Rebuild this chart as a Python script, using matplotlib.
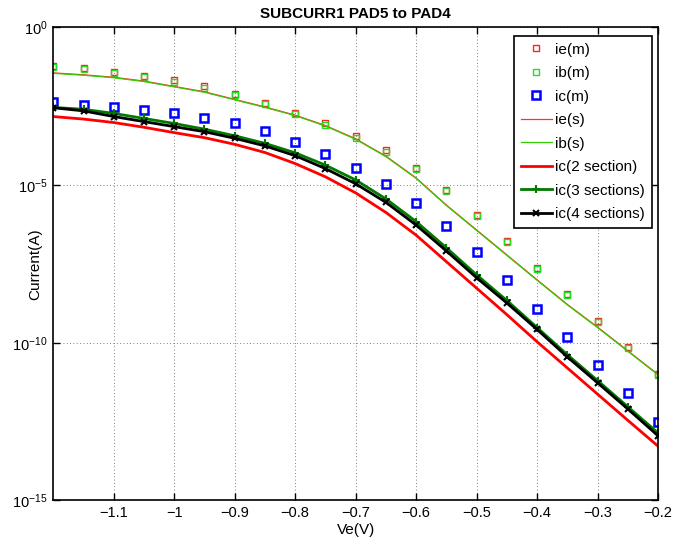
import numpy as np
import matplotlib
matplotlib.use("Agg")
import matplotlib.pyplot as plt
from matplotlib.ticker import FixedLocator, FixedFormatter, NullLocator

plt.rcParams['font.family'] = ['Liberation Sans', 'DejaVu Sans']
plt.rcParams['mathtext.fontset'] = 'custom'
plt.rcParams['mathtext.rm'] = 'Liberation Sans'
plt.rcParams['mathtext.it'] = 'Liberation Sans:italic'

# Emitter voltage (V)
ve = [-1.2, -1.15, -1.1, -1.05, -1.0, -0.95, -0.9, -0.85, -0.8, -0.75, -0.7,
      -0.65, -0.6, -0.55, -0.5, -0.45, -0.4, -0.35, -0.3, -0.25, -0.2]

# log10 of currents (A)
ie_m_log = [-1.22, -1.30, -1.41, -1.53, -1.68, -1.87, -2.10, -2.39, -2.71, -3.05, -3.46,
            -3.90, -4.47, -5.15, -5.94, -6.78, -7.62, -8.46, -9.31, -10.15, -11.00]
ib_m_log = [-1.25, -1.33, -1.44, -1.56, -1.72, -1.91, -2.14, -2.43, -2.75, -3.09, -3.50,
            -3.94, -4.50, -5.18, -5.97, -6.81, -7.65, -8.49, -9.34, -10.18, -11.02]
ic_m_log = [-2.38, -2.46, -2.54, -2.62, -2.71, -2.86, -3.05, -3.29, -3.63, -4.02, -4.46,
            -4.97, -5.56, -6.29, -7.12, -8.01, -8.92, -9.82, -10.72, -11.60, -12.51]
ie_s_log = [-1.445, -1.505, -1.585, -1.705, -1.875, -2.045, -2.285, -2.525, -2.785, -3.115, -3.535,
            -4.085, -4.775, -5.635, -6.425, -7.215, -8.005, -8.785, -9.505, -10.255, -11.005]
ib_s_log = [-1.46, -1.52, -1.60, -1.72, -1.89, -2.06, -2.30, -2.54, -2.80, -3.13, -3.55,
            -4.10, -4.79, -5.65, -6.44, -7.23, -8.02, -8.80, -9.52, -10.27, -11.02]
ic2_log = [-2.83, -2.91, -3.02, -3.17, -3.34, -3.50, -3.71, -3.97, -4.32, -4.74, -5.25,
           -5.87, -6.59, -7.43, -8.27, -9.11, -9.97, -10.80, -11.63, -12.46, -13.28]
ic3_log = [-2.54, -2.60, -2.73, -2.89, -3.05, -3.23, -3.44, -3.68, -3.98, -4.37, -4.84,
           -5.44, -6.16, -6.99, -7.85, -8.66, -9.52, -10.38, -11.20, -12.03, -12.86]
ic4_log = [-2.55, -2.65, -2.83, -2.99, -3.15, -3.31, -3.52, -3.76, -4.07, -4.48, -4.96,
           -5.55, -6.27, -7.09, -7.94, -8.74, -9.58, -10.45, -11.27, -12.10, -12.95]

xticks = [-1.1, -1.0, -0.9, -0.8, -0.7, -0.6, -0.5, -0.4, -0.3, -0.2]
xticklabels = ['\u22121.1', '\u22121', '\u22120.9', '\u22120.8', '\u22120.7', '\u22120.6',
               '\u22120.5', '\u22120.4', '\u22120.3', '\u22120.2']
yticks = [1e-15, 1e-10, 1e-5, 1e0]
yticklabels = [r'$10^{-15}$', r'$10^{-10}$', r'$10^{-5}$', r'$10^{0}$']

def lin(a):
    return np.power(10.0, np.asarray(a))

fig = plt.figure(figsize=(6.86, 5.42), dpi=100)
ax = fig.add_axes([53.3 / 686, 1 - 500.4 / 542, 604.7 / 686, 473.1 / 542])

ax.set_yscale('log')
ax.plot(ve, lin(ie_m_log), linestyle='none', marker='s', ms=5, mfc='none', mec='#ff2020',
        mew=1.0, label='ie(m)')
ax.plot(ve, lin(ib_m_log), linestyle='none', marker='s', ms=5, mfc='none', mec='#22dd22',
        mew=1.0, label='ib(m)')
ax.plot(ve, lin(ic_m_log), linestyle='none', marker='s', ms=5.3, mfc='none', mec='#0000ff',
        mew=1.8, label='ic(m)')
ax.plot(ve, lin(ie_s_log), color='#ff3030', lw=0.9, label='ie(s)')
ax.plot(ve, lin(ib_s_log), color='#33cc00', lw=0.9, label='ib(s)')
ax.plot(ve, lin(ic2_log), color='#ff0000', lw=2.0, label='ic(2 section)')
ax.plot(ve, lin(ic3_log), color='#007a00', lw=2.0, marker='+', ms=6, mew=1.5,
        label='ic(3 sections)')
ax.plot(ve, lin(ic4_log), color='black', lw=2.0, marker='x', ms=4.5, mew=1.5,
        label='ic(4 sections)')

ax.set_xlim(-1.2, -0.2)
ax.set_ylim(1e-15, 1e0)
ax.xaxis.set_major_locator(FixedLocator(xticks))
ax.xaxis.set_major_formatter(FixedFormatter(xticklabels))
ax.yaxis.set_major_locator(FixedLocator(yticks))
ax.yaxis.set_major_formatter(FixedFormatter(yticklabels))
ax.yaxis.set_minor_locator(NullLocator())
ax.xaxis.set_minor_locator(NullLocator())

ax.tick_params(direction='in', top=True, right=True, length=5, width=1.0,
               labelsize=10.5, pad=4)
ax.grid(True, which='major', linestyle=(0, (1, 3)), color='#555555', lw=0.6)
for s in ax.spines.values():
    s.set_linewidth(1.2)

ax.set_title('SUBCURR1 PAD5 to PAD4', fontsize=11, fontweight='bold', pad=7)
ax.set_xlabel('Ve(V)', fontsize=11, labelpad=2)
ax.set_ylabel('Current(A)', fontsize=11)
ax.yaxis.set_label_coords(-0.018, 0.5)

leg = ax.legend(loc='upper right', bbox_to_anchor=(0.990, 0.982), borderaxespad=0,
                fontsize=11, numpoints=1, handlelength=2.0, handletextpad=0.25,
                labelspacing=0.62, borderpad=0.45, fancybox=False, framealpha=1,
                edgecolor='black')
leg.get_frame().set_linewidth(1.2)

fig.savefig('out.png', dpi=100)
